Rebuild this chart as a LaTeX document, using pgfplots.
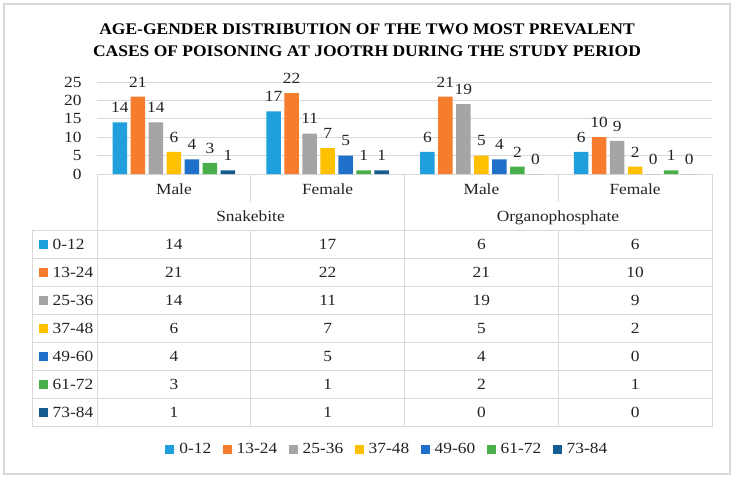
\documentclass[border=0pt]{standalone}
\usepackage{fontspec}
\setmainfont{Liberation Serif}[FakeStretch=1.12]
\newfontfamily\titlefont{Liberation Serif}[FakeStretch=1.08]
\usepackage{pgfplots}
\pgfplotsset{compat=1.18}
\usepackage{pgfplotstable}
\definecolor{cA}{RGB}{31,160,220}
\definecolor{cB}{RGB}{245,125,45}
\definecolor{cC}{RGB}{165,165,165}
\definecolor{cD}{RGB}{255,192,0}
\definecolor{cE}{RGB}{30,112,200}
\definecolor{cF}{RGB}{72,175,74}
\definecolor{cG}{RGB}{20,92,145}
\definecolor{gridc}{RGB}{217,217,217}
\definecolor{txt}{RGB}{35,35,35}

\pgfplotstableread{
x a b c d e f g
0.5 14 21 14 6 4 3 1
1.5 17 22 11 7 5 1 1
2.5 6 21 19 5 4 2 0
3.5 6 10 9 2 0 1 0
}\data

\newcommand\fs{\fontsize{15.5}{18}\selectfont}

\begin{document}
\begin{tikzpicture}[x=1pt,y=1pt]
\draw[gridc, line width=1.2pt] (4,-4) rectangle (730,-474);
\node[font=\titlefont\bfseries\fontsize{16.2}{19}\selectfont, text=black] at (367,-29) {AGE-GENDER DISTRIBUTION OF THE TWO MOST PREVALENT};
\node[font=\titlefont\bfseries\fontsize{16.2}{19}\selectfont, text=black] at (367,-51) {CASES OF POISONING AT JOOTRH DURING THE STUDY PERIOD};

% table grid
\begin{scope}[gridc, line width=0.8pt]
\draw (97,-174) -- (712,-174);
\foreach \y in {-230,-258.1,-286.2,-314.3,-342.4,-370.5,-398.6,-426.7} \draw (32,\y) -- (712,\y);
\foreach \x in {97,404,712} \draw (\x,-174) -- (\x,-426.7);
\foreach \x in {250.5,558} {\draw (\x,-174) -- (\x,-202); \draw (\x,-230) -- (\x,-426.7);}
\draw (32,-230) -- (32,-426.7);
\end{scope}

% headers
\begin{scope}[every node/.style={font=\fs, text=txt, anchor=base, inner sep=0pt}]
\node at (173.9,-194) {Male};
\node at (327.6,-194) {Female};
\node at (481.4,-194) {Male};
\node at (635.1,-194) {Female};
\node at (250.5,-221.7) {Snakebite};
\node at (558,-221.7) {Organophosphate};
\end{scope}

% row labels
\foreach \c/\l [count=\i from 0] in {cA/0-12,cB/13-24,cC/25-36,cD/37-48,cE/49-60,cF/61-72,cG/73-84} {
  \pgfmathsetmacro\yy{-244.05-28.1*\i}
  \fill[\c] (39,\yy-4.5) rectangle (48,\yy+4.5);
  \node[font=\fs, text=txt, anchor=west, inner sep=0pt] at (52.5,\yy) {\l};
}

\begin{axis}[
  at={(97pt,-174pt)}, anchor=south west, scale only axis, width=615pt, height=92pt,
  xmin=0, xmax=4, ymin=0, ymax=25, clip=false,
  axis line style={draw=none}, tick style={draw=none},
  xtick=\empty, ytick={0,5,...,25}, ymajorgrids, grid style={gridc, line width=0.8pt},
  ybar=3.5pt, bar width=14.5pt,
  yticklabel style={font=\fs, text=txt, xshift=-12pt},
  /pgf/number format/assume math mode=true,
  nodes near coords, every node near coord/.append style={font=\fs, text=txt, yshift=6pt},
  legend columns=7,
  legend style={at={(0.472,-2.99)}, anchor=center, draw=none, font=\fs, text=txt,
    /tikz/every even column/.append style={column sep=9.5pt}},
  legend image code/.code={\fill[#1,draw=none] (0pt,-4.5pt) rectangle (9pt,4.5pt); \path (0pt,0pt) -- (12pt,0pt);},
]
\addplot[fill=cA, draw=none] table[x=x,y=a]{\data};
\addplot[fill=cB, draw=none] table[x=x,y=b]{\data};
\addplot[fill=cC, draw=none] table[x=x,y=c]{\data};
\addplot[fill=cD, draw=none] table[x=x,y=d]{\data};
\addplot[fill=cE, draw=none] table[x=x,y=e]{\data};
\addplot[fill=cF, draw=none] table[x=x,y=f]{\data};
\addplot[fill=cG, draw=none] table[x=x,y=g]{\data};
\legend{0-12,13-24,25-36,37-48,49-60,61-72,73-84}
\end{axis}

\begin{axis}[
  at={(97pt,-426.7pt)}, anchor=south west, scale only axis, width=615pt, height=252.7pt,
  xmin=0, xmax=4, ymin=-426.7, ymax=-174, hide axis, clip=false,
  nodes near coords={\pgfplotspointmeta}, point meta=explicit symbolic,
  every node near coord/.append style={anchor=center, font=\fs, text=txt},
]
\addplot[draw=none] table[x=x, y expr=-244.05, meta=a]{\data};
\addplot[draw=none] table[x=x, y expr=-272.15, meta=b]{\data};
\addplot[draw=none] table[x=x, y expr=-300.25, meta=c]{\data};
\addplot[draw=none] table[x=x, y expr=-328.35, meta=d]{\data};
\addplot[draw=none] table[x=x, y expr=-356.45, meta=e]{\data};
\addplot[draw=none] table[x=x, y expr=-384.55, meta=f]{\data};
\addplot[draw=none] table[x=x, y expr=-412.65, meta=g]{\data};
\end{axis}

\pgfresetboundingbox
\path (0,0) rectangle (735,-480);
\end{tikzpicture}
\end{document}
